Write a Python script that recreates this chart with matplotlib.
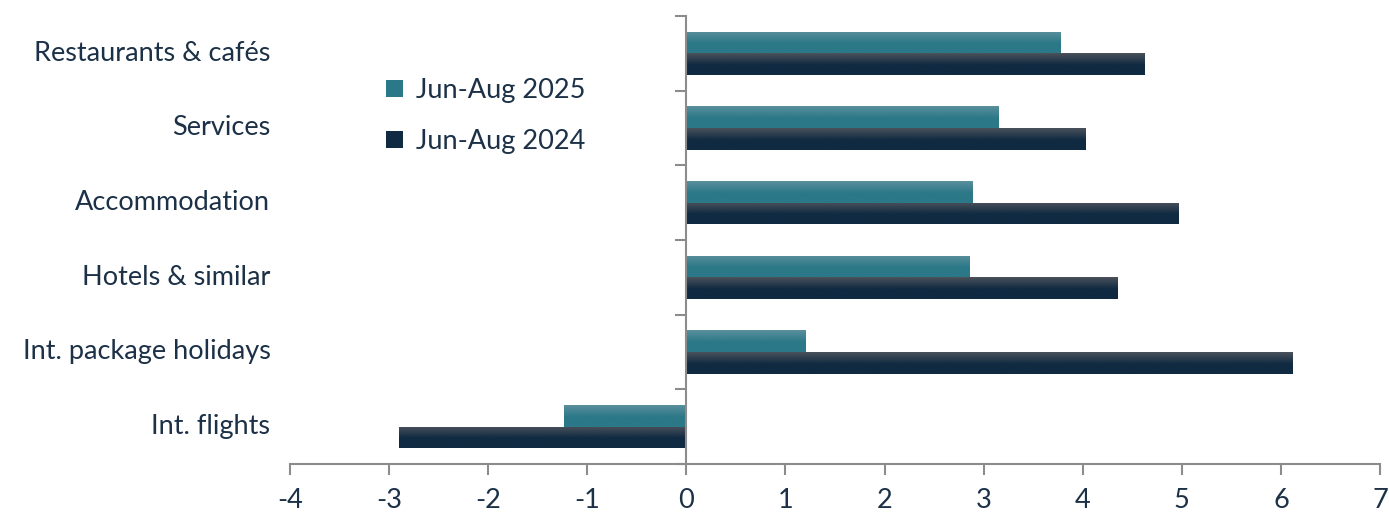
import numpy as np
import matplotlib.pyplot as plt
from matplotlib.patches import Patch
import matplotlib.transforms as mtransforms

plt.rcParams['font.family'] = ['Lato', 'DejaVu Sans']

# Data
categories = ['Restaurants & cafés', 'Services', 'Accommodation',
              'Hotels & similar', 'Int. package holidays', 'Int. flights']
jun_aug_2025 = [3.78, 3.15, 2.89, 2.86, 1.21, -1.23]
jun_aug_2024 = [4.63, 4.03, 4.97, 4.35, 6.12, -2.90]
series_labels = ['Jun-Aug 2025', 'Jun-Aug 2024']
x_ticks = list(range(-4, 8))

text_col = '#1c3147'
axis_col = '#8c8c8c'
# (top colour, bottom colour) for each series
grads = [('#5b8f9c', '#2b7888'), ('#4b525b', '#0f2a41')]


def gradient_bars(ax, bars, top, bottom):
    c_top = np.array(plt.matplotlib.colors.to_rgb(top))
    c_bot = np.array(plt.matplotlib.colors.to_rgb(bottom))
    t = np.clip(np.linspace(0, 1, 100) / 0.55, 0, 1)[:, None]
    img = (c_top * (1 - t) + c_bot * t)[:, None, :]
    for b in bars:
        x0, y0 = b.get_x(), b.get_y()
        w, h = b.get_width(), b.get_height()
        # axis is inverted, so image row 0 at top = smaller y
        im = ax.imshow(img, extent=(x0, x0 + w, y0 + h, y0), aspect='auto',
                       interpolation='bilinear', zorder=2)
        im.set_clip_path(b)
        b.set_facecolor('none')
        b.set_edgecolor('none')


fig = plt.figure(figsize=(13.89, 5.14), dpi=100)
ax = fig.add_axes([0.2088, 0.0973, 0.7847, 0.8716])

y = np.arange(len(categories))
h = 0.29
b1 = ax.barh(y - h / 2, jun_aug_2025, height=h, zorder=2)
b2 = ax.barh(y + h / 2, jun_aug_2024, height=h, zorder=2)
gradient_bars(ax, b1, *grads[0])
gradient_bars(ax, b2, *grads[1])

ax.set_xlim(-4, 7)
ax.set_ylim(len(categories) - 0.5, -0.5)

# spines
for s in ['top', 'right']:
    ax.spines[s].set_visible(False)
ax.spines['left'].set_position(('data', 0))
ax.spines['left'].set_color(axis_col)
ax.spines['bottom'].set_color(axis_col)
ax.spines['left'].set_linewidth(1.5)
ax.spines['bottom'].set_linewidth(1.5)
ax.spines['left'].set_zorder(3)

ax.set_xticks(x_ticks)
ax.set_xticklabels([str(v) for v in x_ticks])
ax.set_yticks(np.arange(-0.5, len(categories), 1.0))
ax.set_yticklabels([])
ax.tick_params(axis='x', direction='out', length=8, width=1.5, color=axis_col,
               labelsize=19.5, labelcolor=text_col, pad=9)
ax.tick_params(axis='y', direction='out', length=8, width=1.5, color=axis_col)

trans = mtransforms.blended_transform_factory(ax.transAxes, ax.transData)
for i, c in enumerate(categories):
    ax.text(-0.018, i, c, transform=trans, ha='right', va='center',
            fontsize=19.5, color=text_col)

handles = [Patch(facecolor=grads[0][1]), Patch(facecolor=grads[1][1])]
leg = ax.legend(handles, series_labels, loc='upper left',
                bbox_to_anchor=(0.066, 0.915), frameon=False, fontsize=19.5,
                handlelength=0.6, handleheight=0.6, handletextpad=0.5,
                labelspacing=0.95, labelcolor=text_col)

fig.savefig('out.png', dpi=100)
